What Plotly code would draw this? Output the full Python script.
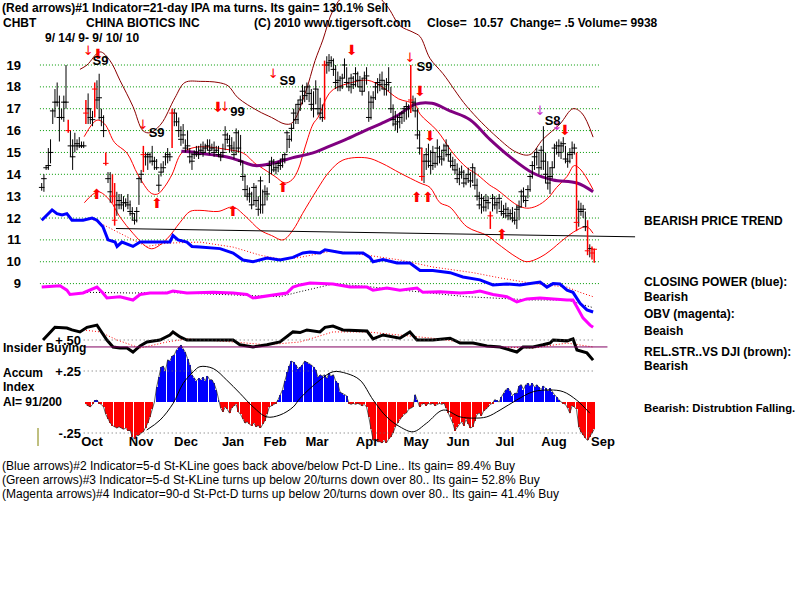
import plotly.graph_objects as go

# ---------------- daily price data (trading day index from 9/14/09) ----------------
high = [13.6,14.0,14.4,15.2,15.6,17.0,17.9,18.2,17.6,17.0,
        17.6,19.0,16.5,16.0,15.6,15.9,15.6,15.7,15.5,15.5,
        17.4,17.7,17.0,16.9,18.2,18.3,18.6,17.0,16.7,15.0,
        14.1,14.1,14.0,13.6,13.2,13.1,13.1,13.0,12.9,13.1,
        12.8,12.5,12.2,12.5,13.9,14.2,15.3,15.0,15.0,15.0,
        15.3,14.8,14.7,14.0,14.5,14.6,15.0,15.2,15.0,17.0,
        17.0,16.8,16.6,16.2,16.3,15.6,16.0,15.2,15.0,15.1,
        15.3,15.3,15.4,15.5,15.4,15.6,15.6,15.4,15.5,15.3,
        15.3,15.0,15.4,16.2,15.9,15.8,15.7,15.5,16.1,16.0,
        15.8,14.6,14.0,13.5,13.4,13.2,13.6,13.5,13.0,13.9,
        13.3,13.5,13.4,14.6,14.8,14.7,14.5,14.6,14.7,14.9,
        15.0,16.0,15.8,16.3,17.0,17.2,17.4,17.6,18.1,18.0,
        18.2,18.1,17.9,17.8,18.3,17.9,17.5,17.2,19.2,19.4,
        19.5,19.4,19.3,19.0,18.7,18.5,18.6,19.3,18.9,18.4,
        18.6,18.5,18.9,18.7,18.5,18.4,18.7,18.9,17.8,17.6,
        17.8,18.2,18.4,18.6,18.7,18.3,18.4,18.9,18.0,17.2,
        16.9,16.7,16.8,16.9,17.1,17.3,17.2,19.0,17.6,17.5,
        17.0,16.0,15.2,14.9,15.2,15.4,15.1,15.3,15.0,15.6,
        15.3,15.1,15.4,15.6,15.3,15.0,14.8,14.7,14.5,14.3,
        14.4,14.2,14.0,14.3,14.1,14.5,14.3,13.8,13.2,13.1,
        13.0,13.1,13.0,12.3,13.1,13.0,12.9,13.1,12.8,12.6,
        12.7,12.5,12.4,12.5,12.3,12.6,12.8,13.3,13.4,13.0,
        13.5,14.0,14.6,15.0,15.2,15.0,15.3,16.2,15.0,14.6,
        14.3,14.6,15.4,15.5,15.6,15.5,15.7,15.3,15.0,15.2,
        15.5,15.4,15.0,12.8,12.7,12.6,12.3,11.9,10.8,10.7,
        10.6]
low = [13.25,13.2,14.2,14.2,14.5,16.3,16.6,17.1,15.5,16.5,
       16.4,17.0,15.9,14.8,14.2,15.0,15.1,15.2,15.2,15.2,
       16.3,16.3,16.3,16.2,16.6,17.0,16.5,16.2,15.7,14.4,
       13.6,12.7,12.7,11.65,12.1,12.4,12.4,12.3,12.5,12.4,
       12.1,11.9,11.7,11.8,12.6,13.6,14.1,14.4,14.2,14.5,
       14.4,14.2,14.2,13.2,13.9,14.1,14.4,14.5,14.6,15.2,
       16.2,16.2,15.7,15.3,15.4,15.0,15.1,14.5,14.2,14.7,
       14.8,14.7,15.0,14.8,15.0,15.1,14.9,15.1,14.8,15.0,
       14.8,14.6,14.8,15.1,15.4,15.0,15.0,14.7,14.9,15.0,
       14.4,13.7,13.0,12.8,12.7,12.4,12.6,12.5,12.1,12.2,
       12.2,12.6,12.8,13.6,14.0,14.1,14.0,14.1,14.2,14.3,
       14.5,15.0,15.2,15.5,16.1,16.3,16.3,16.9,17.2,17.3,
       17.4,17.3,16.9,16.6,17.2,16.7,16.5,16.4,16.5,18.6,
       18.7,18.9,18.5,17.9,17.8,17.8,17.9,18.4,18.0,17.8,
       17.7,17.9,18.0,18.0,17.8,17.6,17.8,18.1,16.4,16.5,
       17.0,17.4,17.7,17.8,17.9,17.6,17.6,17.8,16.8,16.2,
       16.0,15.9,16.1,16.3,16.4,16.5,16.6,16.8,16.9,16.6,
       15.6,14.9,13.7,13.6,14.2,14.3,14.0,14.2,14.3,14.4,
       14.5,14.4,14.6,14.8,14.6,14.3,14.2,14.0,13.6,13.5,
       13.8,13.4,13.5,13.6,13.4,13.6,13.3,12.8,12.4,12.2,
       12.3,12.3,12.4,11.5,12.3,12.4,12.2,12.4,12.1,12.0,
       12.0,11.9,11.9,11.8,11.7,11.5,11.9,12.5,12.7,12.5,
       12.9,13.2,13.8,14.2,14.4,14.0,14.2,14.2,13.6,13.3,
       13.1,13.8,14.3,14.9,14.8,14.7,15.0,14.5,14.3,14.5,
       14.7,14.9,11.4,11.6,12.1,12.0,11.4,10.3,10.2,10.1,
       9.95]
close = [13.4,13.8,14.3,14.4,15.0,16.9,17.3,17.3,16.6,16.6,
         17.3,17.3,16.0,15.3,14.8,15.3,15.4,15.3,15.3,15.3,
         16.8,17.0,16.6,16.5,17.9,17.4,17.5,16.6,16.0,14.5,
         13.8,13.2,13.0,11.9,12.6,12.8,12.6,12.7,12.7,12.6,
         12.3,12.2,11.9,12.3,13.8,14.0,14.9,14.8,14.9,14.8,
         14.6,14.6,14.3,13.5,14.1,14.3,14.8,14.9,14.8,16.8,
         16.8,16.4,16.0,15.6,15.8,15.2,15.3,14.8,14.6,14.9,
         15.0,14.9,15.1,15.0,15.2,15.3,15.1,15.2,15.0,15.1,
         14.9,14.8,15.0,15.8,15.6,15.3,15.2,14.9,15.9,15.2,
         14.6,13.9,13.3,13.0,13.1,12.6,13.4,12.8,12.4,13.7,
         12.6,13.2,13.1,14.4,14.6,14.2,14.3,14.5,14.4,14.7,
         14.9,15.9,15.6,16.1,16.8,16.5,17.2,17.4,17.8,17.6,
         18.0,17.7,17.2,17.0,17.9,17.0,16.8,16.6,19.0,19.0,
         19.1,19.2,18.8,18.2,18.3,18.0,18.4,19.0,18.2,18.0,
         18.4,18.1,18.6,18.3,18.0,17.8,18.4,18.5,16.6,17.3,
         17.5,18.0,18.2,18.1,18.3,17.9,18.1,18.2,17.0,16.5,
         16.3,16.4,16.6,16.8,17.0,17.1,17.0,17.4,17.3,16.9,
         15.8,15.2,13.9,14.6,14.9,14.6,14.4,15.0,14.5,15.2,
         14.8,14.7,15.1,15.3,14.9,14.6,14.4,14.2,13.8,14.0,
         14.1,13.6,13.8,14.0,13.7,14.3,13.5,13.0,12.6,12.9,
         12.5,12.8,12.7,12.1,12.9,12.6,12.7,12.9,12.3,12.2,
         12.4,12.1,12.2,12.0,11.9,12.4,12.5,13.2,13.0,12.8,
         13.3,13.9,14.4,14.8,15.0,14.3,15.1,14.6,14.0,13.6,
         13.9,14.3,15.2,15.3,15.0,15.3,15.4,14.7,14.6,14.9,
         15.0,15.2,11.8,12.4,12.3,12.4,11.6,10.5,10.6,10.4,
         10.57]
red_bar_days = [12, 20, 24, 29, 32, 33, 46, 59, 128, 167, 172, 203, 242, 247, 249, 250]

# ---------------- bands / moving averages (sampled: day, price) ----------------
band_upper_days = [19.2,25,28.5,33,38.6,43.6,49.6,52.5,55.6,59,63.2,68,73.7,82.9,91.2,96.5,98.8,105.6,110.1,
                   113.3,116,119.2,122.8,125,131,140.4,147.6,154,161.5,168.9,171.2,178.9,186.1,192.4,196.9,
                   202.8,206,215,219.5,224,229,233,237.7,241,244,249.5]
band_upper_vals = [15.72,16.48,16.3,15.45,14.97,13.97,13.13,13.1,13.43,14.0,14.96,15.2,15.26,15.15,14.97,14.5,
                   14.35,13.9,13.6,13.75,14.2,15.25,16.3,16.6,17.8,18.2,18.3,18.0,17.45,17.2,16.75,16.0,14.97,
                   14.3,14.0,13.5,13.3,12.6,12.45,12.55,12.9,13.4,13.9,14.4,14.2,13.3]
band_lower_days = [19.3,25.5,30.9,35.4,41.3,47.6,50.4,56.7,62.6,67.1,71.6,79.8,86.6,92,98.8,104,109.2,113.7,
                   118,124.6,130,136.3,147.2,154,162.1,171.2,175.7,180.2,184.7,192.4,201.5,206,215,219.5,
                   225.5,230,235.9,242.2,246.7,249.5]
band_lower_vals = [12.7,13.2,12.8,12.05,11.3,10.67,10.6,11.05,11.8,12.3,12.35,12.3,12.5,12.1,11.45,11.2,11.0,
                   11.45,12.2,13.3,14.1,14.65,14.75,14.5,14.06,13.6,13.4,12.7,12.5,11.6,11.2,10.85,10.2,10.0,
                   10.2,10.5,11.0,11.45,11.6,11.3]
band_outer_days = [17.3,20.5,26.4,30.9,35.4,41.3,45.8,49,54,60.3,64.8,72,79.8,84.3,88.8,97.9,104,110.1,113.3,
                   119.2,123.7,127.2,131.8,137.2,148.5,156.2,162.1,168,171.2,175.7,181.6,192.4,206,215,220.9,
                   226.8,234.5,240.4,244.4,249.5]
band_outer_vals = [18.8,19.0,19.6,19.2,18.3,17.1,16.0,15.9,16.3,17.5,18.2,18.25,18.2,18.05,17.5,16.9,16.6,16.3,
                   16.35,17.7,19.2,20.14,21.5,22.2,22.4,21.7,20.8,20.5,20.3,19.3,18.6,17.1,15.7,15.0,14.9,15.6,
                   16.3,17.0,16.8,15.7]
ma_days = [63.2,69.4,76.6,84.3,88.8,96.5,104.2,113.3,122.4,128.2,137.2,146.3,155.3,161.2,168.9,176.6,184.7,
           193.8,202.8,211.9,222.3,231.4,242.2,249.5]
ma_vals = [15.05,15.0,14.9,14.78,14.65,14.4,14.5,14.75,14.97,15.2,15.57,16.0,16.4,16.7,17.2,17.25,16.9,16.5,
           15.6,14.8,14.06,13.74,13.6,13.2]
trend_days = [33.6, 268.5]
trend_vals = [11.52, 11.14]

# ---------------- indicator lines (drawn on the price scale, as in the chart) ----------------
cp_days = [0,1.5,4.7,6.9,9.2,11.4,13.7,18.7,22.8,25,27.7,30,33.2,34.1,36.3,41.3,44.5,53.5,58,59.4,61.7,65.7,68,
           71.6,80.7,86.6,91.1,95.6,101.9,107.8,113.7,118.2,121.4,125.9,128.2,136.3,145.4,148.5,149.9,154.4,
           160.8,166.6,171.2,177,184.8,190.6,198.3,204.2,210.5,216.4,222.3,225.5,228.6,231.4,234.5,237.7,
           240.4,243.6,246.7,249.5]
cp_vals = [11.9,12.05,12.37,12.2,12.14,12.2,11.9,11.9,12.0,11.9,11.6,11.0,10.9,10.7,10.9,10.7,10.9,10.9,10.9,
           11.2,11.0,10.9,10.7,10.67,10.6,10.4,10.08,10.0,10.17,10.08,10.2,10.4,10.45,10.4,10.55,10.4,10.4,
           10.2,10.0,10.1,9.94,9.94,9.6,9.6,9.5,9.3,9.17,8.94,8.98,8.94,9.03,9.07,8.84,9.0,8.98,8.7,8.6,8.1,
           7.8,7.7]
cp_ma_days = [21.9,29.5,41.3,47.6,56.7,71.6,86.6,98.8,109.2,116.9,131.8,147.2,162.1,177,195.2,207.4,222.3,
              237.7,243.6,249.5]
cp_ma_vals = [12.0,11.6,11.0,10.7,10.85,10.9,10.67,10.3,10.1,10.2,10.5,10.3,10.08,9.76,9.5,9.26,9.0,8.84,
              8.6,8.4]
obv_days = [0,8.3,11.4,12.8,18.7,21.9,25,27.7,29.5,35.4,41.3,44.5,49,56.7,59.4,65.7,77.5,86.6,92.9,95.6,101.9,
            110.9,113.7,116.9,121.4,131.8,139.5,147.2,149.9,156.2,162.1,169.8,172.5,180.2,189.3,195.2,198.3,
            204.2,210.5,215,219.5,225.5,237.7,240.4,242.2,244.9,248.1,249.5]
obv_vals = [8.84,8.9,8.7,8.5,8.57,8.7,8.84,8.57,8.34,8.4,8.25,8.5,8.57,8.57,8.66,8.57,8.6,8.57,8.5,8.34,8.43,
            8.57,8.84,8.94,9.03,8.98,8.84,8.84,8.7,8.8,8.7,8.8,8.6,8.63,8.57,8.6,8.66,8.5,8.4,8.16,8.3,8.34,
            8.25,8.25,7.93,7.43,7.1,7.0]
obv_ma_days = [20.5,41.3,56.7,86.6,107.8,116.9,131.8,144,162.1,192.3,222.3,237.7,249.5]
obv_ma_vals = [8.6,8.57,8.6,8.5,8.4,8.63,8.98,8.9,8.7,8.4,8.25,8.25,7.9]
rs_days = [0.6,3.8,6,11.4,13.7,17.3,20.5,25,26.4,29.5,32.3,35.4,38.6,41.3,44.5,47.6,53.5,58,59.4,62.6,65.7,
           71.6,86.6,89.7,95.6,101.9,107.8,113.7,116.9,120,125.9,128.2,131.8,136.3,147.2,149.9,154.4,162.1,
           166.6,169.8,177,184.8,189.3,195.2,201.5,207.4,215,217.8,222.3,226.8,230,231.4,237.7,240.4,242.2,
           246.7,249.5]
rs_vals = [6.42,6.79,7.0,6.97,6.88,6.79,7.0,7.1,6.88,6.42,6.1,6.05,6.05,5.87,6.15,6.33,6.42,6.65,6.79,6.56,6.42,
           6.42,6.42,6.2,6.1,6.2,6.33,6.79,6.76,6.88,6.79,7.0,7.06,6.88,6.83,6.47,6.65,6.5,6.79,6.42,6.42,6.5,
           6.28,6.28,6.15,6.1,5.87,6.1,6.1,6.2,6.28,6.42,6.38,6.47,5.96,5.83,5.5]
rs_ma_days = [18.7,26.4,34.1,44.5,56.7,65.7,86.6,101.9,116.9,131.8,147.2,162.1,177,192.4,207.4,222.3,237.7,249.5]
rs_ma_vals = [6.88,6.79,6.42,6.05,6.33,6.47,6.33,6.2,6.33,6.79,6.79,6.65,6.5,6.28,6.1,6.05,6.28,6.1]

# ---------------- accumulation index (daily from day 20) ----------------
ai_start = 20
ai_vals = [-0.02,-0.03,-0.04,-0.02,0.01,0.015,-0.01,-0.02,-0.04,-0.10,
           -0.14,-0.17,-0.19,-0.20,-0.21,-0.20,-0.21,-0.22,-0.21,-0.23,
           -0.23,-0.28,-0.30,-0.27,-0.27,-0.25,-0.24,-0.21,-0.17,-0.12,
           -0.06,0.0,0.12,0.20,0.28,0.29,0.25,0.34,0.33,0.37,
           0.38,0.42,0.44,0.46,0.43,0.40,0.35,0.30,0.22,0.19,
           0.17,0.19,0.18,0.20,0.17,0.21,0.18,0.18,0.15,0.10,
           0.02,-0.05,-0.08,-0.04,-0.06,-0.09,-0.05,-0.03,-0.02,-0.08,
           -0.10,-0.14,-0.17,-0.16,-0.18,-0.19,-0.17,-0.20,-0.19,-0.21,
           -0.18,-0.15,-0.10,-0.04,-0.03,-0.02,-0.01,0.02,0.06,0.10,
           0.17,0.24,0.29,0.33,0.32,0.30,0.27,0.28,0.30,0.33,
           0.32,0.31,0.30,0.28,0.26,0.20,0.22,0.21,0.22,0.19,
           0.23,0.21,0.22,0.17,0.15,0.08,0.07,0.06,0.05,-0.01,
           -0.02,-0.01,-0.02,-0.01,-0.02,-0.03,-0.02,-0.04,-0.12,-0.22,
           -0.31,-0.30,-0.32,-0.32,-0.33,-0.31,-0.33,-0.30,-0.28,-0.25,
           -0.20,-0.17,-0.14,-0.12,-0.10,-0.09,-0.06,-0.05,-0.04,0.06,
           0.01,-0.04,-0.02,-0.01,-0.03,-0.01,-0.02,-0.01,-0.03,-0.02,
           -0.01,-0.02,-0.01,-0.05,-0.09,-0.12,-0.17,-0.23,-0.20,-0.18,
           -0.16,-0.19,-0.14,-0.18,-0.21,-0.20,-0.15,-0.10,-0.09,-0.11,
           -0.07,-0.06,-0.04,-0.02,-0.01,0.02,0.01,0.0,0.04,0.07,
           0.10,0.11,0.09,0.05,0.07,0.07,0.13,0.14,0.10,0.14,
           0.15,0.13,0.15,0.12,0.14,0.12,0.10,0.13,0.11,0.09,
           0.11,0.08,0.06,0.04,0.02,0.0,-0.01,-0.02,-0.05,-0.09,
           -0.03,-0.04,-0.06,-0.20,-0.24,-0.27,-0.29,-0.31,-0.28,-0.25,
           -0.22]
ai_ma_days = [47.5,53.6,59.5,64,68.6,71.6,77.6,83.7,89.7,95.7,101.8,107.8,113.8,116.9,125.9,131.9,138,144,150,
              156.1,162.1,168.1,174.2,181.7,189.3,195.3,201.4,207.4,214.9,222.4,230,236,242,248]
ai_ma_vals = [-0.226,-0.145,-0.01,0.15,0.244,0.285,0.27,0.177,0.07,-0.04,-0.12,-0.105,-0.04,0.03,0.177,0.244,
              0.23,0.177,0.016,-0.12,-0.2,-0.24,-0.17,-0.065,-0.12,-0.13,-0.12,-0.065,0.016,0.083,0.097,0.083,
              0.016,-0.09]
insider_level = 0.444
insider_days = [19, 256]

# ---------------- axis ticks ----------------
price_ticks = [19, 18, 17, 16, 15, 14, 13, 12, 11, 10, 9]
ai_ticks = [0.5, 0.25, -0.25]
ai_ticktext = ['+.50', '+.25', '-.25']
month_names = ['Oct', 'Nov', 'Dec', 'Jan', 'Feb', 'Mar', 'Apr', 'May', 'Jun', 'Jul', 'Aug', 'Sep']
month_pos = [22.8, 45, 65.3, 86.6, 105.6, 124.6, 147.2, 169.4, 188.4, 209.6, 231.8, 254]

# ---------------- signals ----------------
up_arrow_days = [25, 52.2, 86.6, 109.2, 169.8, 174.8, 208.3]
up_arrow_vals = [13.05, 12.6, 12.23, 13.37, 12.9, 12.9, 11.18]
down_arrow_days = [25.5, 79.8, 140.4, 171.2, 175.7, 236.8]
down_arrow_vals = [19.45, 17.03, 19.6, 17.76, 15.7, 15.98]
thin_arrow_days = [21, 45.8, 82.9, 104.7, 166.6]
thin_arrow_vals = [19.6, 16.2, 17.03, 18.54, 19.3]
mag_arrow_days = [225.5, 233.2]
mag_arrow_vals = [16.85, 16.16]
sig_labels = ['S9', 'S9', '99', 'S9', 'S9', 'S8']
sig_days = [26.6, 52.0, 88.6, 111.2, 173.2, 231.2]
sig_vals = [19.14, 15.85, 16.8, 18.22, 18.86, 16.4]

# ---------------- geometry of the page ----------------
W, H = 800, 600
X0_PX, PX_PER_DAY = 41.7, 2.21
X_LO = -X0_PX / PX_PER_DAY
X_HI = (W - X0_PX) / PX_PER_DAY
P19_PX, PX_PER_PT = 65.0, 21.86
P_TOP = 19 + P19_PX / PX_PER_PT
P_BOT = 19 - (H - P19_PX) / PX_PER_PT
AI0_PX, PX_PER_AI = 402.0, 124.0
A_TOP = AI0_PX / PX_PER_AI
A_BOT = -(H - AI0_PX) / PX_PER_AI

FONT = 'Liberation Sans'
BOLD = dict(family=FONT, size=13, color='black', weight='bold')

fig = go.Figure()

def seg_xy(x0, x1, levels):
    xs, ys = [], []
    for v in levels:
        xs += [x0, x1, None]
        ys += [v, v, None]
    return xs, ys

# grid lines
gx, gy = seg_xy(-0.8, 252.6, price_ticks)
fig.add_trace(go.Scatter(x=gx, y=gy, mode='lines', line=dict(color='#009900', width=1, dash='1px,2px'),
                         hoverinfo='skip'))
ax_, ay_ = seg_xy(19, 250, ai_ticks)
fig.add_trace(go.Scatter(x=ax_, y=ay_, yaxis='y2', mode='lines',
                         line=dict(color='#666666', width=1, dash='1px,3px'), hoverinfo='skip'))

# bands
fig.add_trace(go.Scatter(x=band_outer_days, y=band_outer_vals, mode='lines',
                         line=dict(color='#8B0000', width=1, shape='spline')))
fig.add_trace(go.Scatter(x=band_upper_days, y=band_upper_vals, mode='lines',
                         line=dict(color='#FF0000', width=1, shape='spline')))
fig.add_trace(go.Scatter(x=band_lower_days, y=band_lower_vals, mode='lines',
                         line=dict(color='#FF0000', width=1, shape='spline')))
fig.add_trace(go.Scatter(x=trend_days, y=trend_vals, mode='lines', line=dict(color='black', width=1)))

# indicator MAs (dotted)
fig.add_trace(go.Scatter(x=cp_ma_days, y=cp_ma_vals, mode='lines', line=dict(color='#FF0000', width=1, dash='1px,2px')))
fig.add_trace(go.Scatter(x=obv_ma_days, y=obv_ma_vals, mode='lines', line=dict(color='black', width=1, dash='1px,2px')))
fig.add_trace(go.Scatter(x=rs_ma_days, y=rs_ma_vals, mode='lines', line=dict(color='#FF0000', width=1, dash='1px,2px')))

# indicators
fig.add_trace(go.Scatter(x=cp_days, y=cp_vals, mode='lines', line=dict(color='#0000FF', width=3)))
fig.add_trace(go.Scatter(x=obv_days, y=obv_vals, mode='lines', line=dict(color='#FF00FF', width=3)))
fig.add_trace(go.Scatter(x=rs_days, y=rs_vals, mode='lines', line=dict(color='black', width=3)))

# purple moving average
fig.add_trace(go.Scatter(x=ma_days, y=ma_vals, mode='lines', line=dict(color='#800080', width=3, shape='spline')))

# price bars
def bars(days):
    xs, ys = [], []
    for i in days:
        xs += [i, i, None]
        ys += [low[i], high[i], None]
    return xs, ys

days_all = list(range(len(close)))
blk = [i for i in days_all if i not in red_bar_days]
bx, by = bars(blk)
fig.add_trace(go.Scatter(x=bx, y=by, mode='lines', line=dict(color='black', width=1)))
fig.add_trace(go.Scatter(x=blk, y=[close[i] for i in blk], mode='markers',
                         marker=dict(symbol='line-ew', size=4, line=dict(color='black', width=1))))
rx, ry = bars(red_bar_days)
fig.add_trace(go.Scatter(x=rx, y=ry, mode='lines', line=dict(color='#FF0000', width=1.5)))
fig.add_trace(go.Scatter(x=red_bar_days, y=[close[i] for i in red_bar_days], mode='markers',
                         marker=dict(symbol='line-ew', size=4, line=dict(color='#FF0000', width=1))))

# accumulation index histogram
ai_days = list(range(ai_start, ai_start + len(ai_vals)))
fig.add_trace(go.Bar(x=ai_days, y=ai_vals, yaxis='y2', width=0.45,
                     marker=dict(color=['#0000FF' if v > 0 else '#FF0000' for v in ai_vals], line=dict(width=0))))
fig.add_trace(go.Scatter(x=ai_days, y=ai_vals, yaxis='y2', mode='lines', line=dict(color='#333333', width=0.8)))
fig.add_trace(go.Scatter(x=ai_ma_days, y=ai_ma_vals, yaxis='y2', mode='lines',
                         line=dict(color='black', width=1, shape='spline')))
fig.add_trace(go.Scatter(x=insider_days, y=[insider_level, insider_level], yaxis='y2', mode='lines',
                         line=dict(color='#800060', width=1)))

# signals
fig.add_trace(go.Scatter(x=up_arrow_days, y=up_arrow_vals, mode='text', text=['⬆'] * len(up_arrow_days),
                         textfont=dict(family='DejaVu Sans', size=14, color='#FF0000')))
fig.add_trace(go.Scatter(x=down_arrow_days, y=down_arrow_vals, mode='text', text=['⬇'] * len(down_arrow_days),
                         textfont=dict(family='DejaVu Sans', size=14, color='#FF0000')))
fig.add_trace(go.Scatter(x=thin_arrow_days, y=thin_arrow_vals, mode='text', text=['↓'] * len(thin_arrow_days),
                         textfont=dict(family='DejaVu Sans', size=13, color='#FF0000')))
fig.add_trace(go.Scatter(x=mag_arrow_days, y=mag_arrow_vals, mode='text', text=['↓'] * len(mag_arrow_days),
                         textfont=dict(family='DejaVu Sans', size=13, color='#CC33CC')))
fig.add_trace(go.Scatter(x=sig_days, y=sig_vals, mode='text', text=sig_labels,
                         textfont=dict(family=FONT, size=13, color='black', weight='bold')))

# ---------------- text ----------------
def ann(text, x, y, size=12, bold=True, family=FONT, color='black'):
    fig.add_annotation(text=text, x=x / W, y=1 - y / H, xref='paper', yref='paper', xanchor='left',
                       yanchor='middle', showarrow=False,
                       font=dict(family=family, size=size, color=color, weight='bold' if bold else 'normal'))

header = [('(Red arrows)#1 Indicator=21-day IPA ma turns. Its gain= 130.1% Sell', 0, 8),
          ('CHBT', 1, 23), ('CHINA BIOTICS INC', 84, 23), ('(C) 2010 www.tigersoft.com', 252, 23),
          ('Close=  10.57  Change= .5 Volume= 9938', 425, 23), ('9/ 14/ 9- 9/ 10/ 10', 43, 38)]
for t, x, y in header:
    ann(t, x, y, size=12)

side = [('BEARISH PRICE TREND', 642, 221, 12), ('CLOSING POWER (blue):', 642, 282, 12), ('Bearish', 642, 297, 12),
        ('OBV (magenta):', 642, 314, 12), ('Beaish', 642, 331, 12), ('REL.STR..VS DJI (brown):', 642, 352, 12),
        ('Bearish', 642, 366, 12), ('Bearish: Distrubtion Falling.', 642, 408, 11.3)]
for t, x, y, s in side:
    ann(t, x, y, size=s)

left = [('Insider Buying', 1, 348), ('Accum', 1, 373), ('Index', 1, 387), ('AI= 91/200', 1, 402)]
for t, x, y in left:
    ann(t, x, y, size=12)

footer = [('(Blue arrows)#2 Indicator=5-d St-KLine goes back above/below Pct-D Line.. Its gain= 89.4% Buy', 0, 466),
          ('(Green arrows)#3 Indicator=5-d St-KLine turns up below 20/turns down over 80.. Its gain= 52.8% Buy', 0, 480),
          ('(Magenta arrows)#4 Indicator=90-d St-Pct-D turns up below 20/turns down over 80.. Its gain= 41.4% Buy', 0, 494)]
for t, x, y in footer:
    ann(t, x, y, size=12, bold=False)

fig.add_shape(type='line', xref='paper', yref='paper', x0=38 / W, x1=38 / W, y0=1 - 428 / H, y1=1 - 446 / H,
              line=dict(color='#808000', width=1))

fig.update_layout(
    width=W, height=H, margin=dict(l=0, r=0, t=0, b=0),
    paper_bgcolor='white', plot_bgcolor='white', showlegend=False, bargap=0,
    xaxis=dict(range=[X_LO, X_HI], domain=[0, 1], anchor='free', position=1 - 432 / H,
               tickvals=month_pos, ticktext=month_names, tickfont=BOLD, showgrid=False, zeroline=False,
               showline=False, ticks=''),
    yaxis=dict(range=[P_BOT, P_TOP], domain=[0, 1], anchor='free', position=21 / W,
               tickvals=price_ticks, ticktext=[str(t) for t in price_ticks], tickfont=BOLD,
               showgrid=False, zeroline=False, showline=False, ticks=''),
    yaxis2=dict(range=[A_BOT, A_TOP], overlaying='y', anchor='free', position=81 / W,
                tickvals=ai_ticks, ticktext=ai_ticktext, tickfont=BOLD,
                showgrid=False, zeroline=False, showline=False, ticks=''),
)

fig.write_html('out.html')
